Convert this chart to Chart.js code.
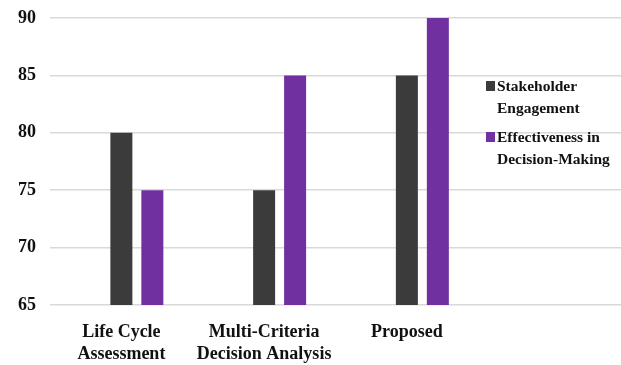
<!DOCTYPE html>
<html>
<head>
<meta charset="utf-8">
<script src="https://cdn.jsdelivr.net/npm/chart.js@4.4.1/dist/chart.umd.min.js"></script>
<style>
  html, body { margin: 0; padding: 0; background: #fff; overflow: hidden; }
  #wrap { position: relative; width: 621px; height: 365px; }
  #legend {
    position: absolute; left: 486px; top: 75px; width: 130px;
    font: bold 15.5px "Liberation Serif", "Times New Roman", serif;
    color: #111; line-height: 22px;
  }
  #legend .item { position: relative; padding-left: 11px; margin-bottom: 7px; }
  #legend .box { position: absolute; left: 0; top: 6px; width: 9px; height: 10px; }
</style>
</head>
<body>
<div id="wrap">
  <canvas id="chart"></canvas>
  <div id="legend"></div>
</div>
<script>
// Methods compared, last slot left open for the legend
var categories = [['Life Cycle', 'Assessment'], ['Multi-Criteria', 'Decision Analysis'], 'Proposed', ''];

var seriesNames = ['Stakeholder Engagement', 'Effectiveness in Decision-Making'];
var stakeholderEngagement = [80, 75, 85, null];
var decisionEffectiveness = [75, 85, 90, null];
var unusedSlot = [null, null, null, null];

var yTicks = [65, 70, 75, 80, 85, 90];

var seriesColors = ['#3b3b3b', '#7030a0'];
var tickFont = { family: '"Liberation Serif", "Times New Roman", serif', size: 18, weight: 'bold', lineHeight: 1.22 };

var ctx = document.getElementById('chart').getContext('2d');
new Chart(ctx, {
    type: 'bar',
    data: {
        labels: categories,
        datasets: [
            // empty first slot in each group, keeps the bars right of centre
            { label: 'unused', data: unusedSlot, backgroundColor: 'rgba(0,0,0,0)' },
            { label: seriesNames[0], data: stakeholderEngagement, backgroundColor: seriesColors[0] },
            { label: seriesNames[1], data: decisionEffectiveness, backgroundColor: seriesColors[1] }
        ]
    },
    options: {
        responsive: true,
        maintainAspectRatio: false,
        animation: false,
        categoryPercentage: 0.651,
        barPercentage: 0.71,
        layout: { padding: { top: 18, right: 0, bottom: 0, left: 0 } },
        plugins: {
            legend: { display: false },
            tooltip: { enabled: false }
        },
        scales: {
            x: {
                afterFit: function (scale) { scale.height = 60; },
                grid: { display: false },
                border: { display: false },
                ticks: { color: '#111', font: tickFont, padding: 8, maxRotation: 0, autoSkip: false }
            },
            y: {
                min: yTicks[0],
                max: yTicks[yTicks.length - 1],
                afterFit: function (scale) {
                    scale.width = 50;
                    scale.paddingTop = 0;
                    scale.paddingBottom = 0;
                },
                afterBuildTicks: function (scale) {
                    scale.ticks = yTicks.map(function (v) { return { value: v }; });
                },
                grid: { color: '#d9d9d9', lineWidth: 1.5, drawTicks: false },
                border: { display: false },
                ticks: { color: '#111', font: tickFont, padding: 14 }
            }
        }
    }
});

// Legend sits inside the plot area, over the open fourth slot
var legendEl = document.getElementById('legend');
seriesNames.forEach(function (name, i) {
    var item = document.createElement('div');
    item.className = 'item';
    item.innerHTML = '<span class="box" style="background:' + seriesColors[i] + '"></span>' + name;
    legendEl.appendChild(item);
});
</script>
</body>
</html>
